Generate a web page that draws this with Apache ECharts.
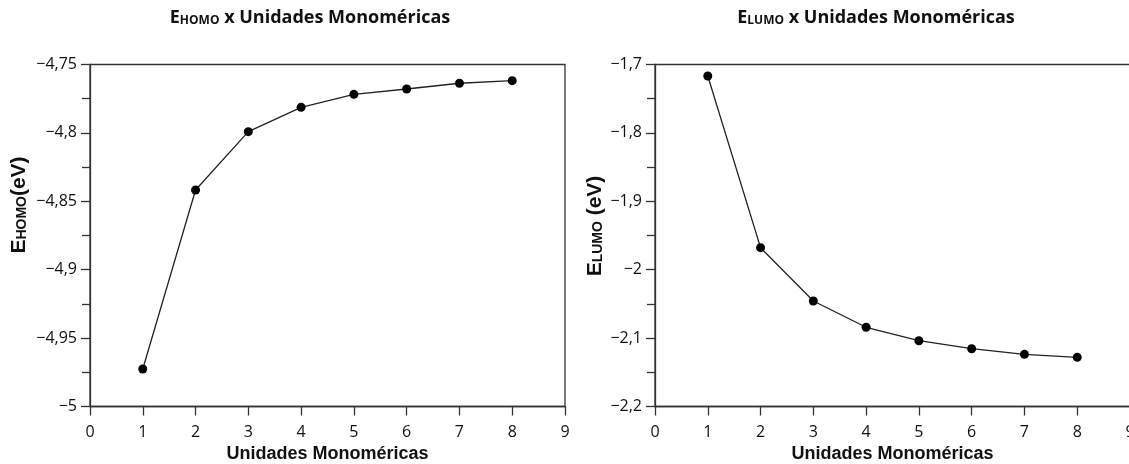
<!DOCTYPE html>
<html>
<head>
<meta charset="utf-8">
<script src="https://cdn.jsdelivr.net/npm/echarts@6/dist/echarts.min.js"></script>
<style>html,body{margin:0;padding:0;background:#fff}#c{width:1129px;height:464px}</style>
</head>
<body>
<div id="c"></div>
<script>
const units = [1, 2, 3, 4, 5, 6, 7, 8];
const homo = [-4.9726, -4.8417, -4.7991, -4.7813, -4.7718, -4.7679, -4.7637, -4.7618];
const lumo = [-1.7168, -1.9678, -2.0458, -2.0842, -2.1038, -2.1155, -2.1237, -2.1281];
const xTitle = 'Unidades Monoméricas';
const titleLeft = ['HOMO', ' x Unidades Monoméricas'];
const titleRight = ['LUMO', ' x Unidades Monoméricas'];
const yNameLeft = ['HOMO', '(eV)'];
const yNameRight = ['LUMO', ' (eV)'];

const chart = echarts.init(document.getElementById('c'));
const axisColor = '#333';
const fmt = v => {
  const s = String(Math.round(v * 1000) / 1000);
  return s.replace('-', '\u2212').replace('.', ',');
};
function xAxis(gi) {
  return {
    type: 'value', gridIndex: gi, min: 0, max: 9, interval: 1,
    name: xTitle, nameLocation: 'middle', nameGap: 39,
    nameTextStyle: {fontFamily: 'Liberation Sans', fontWeight: 'bold', fontSize: 18, color: '#111'},
    axisLine: {show: true, onZero: false, lineStyle: {color: axisColor, width: 1.3}},
    axisTick: {show: true, inside: false, length: 9, lineStyle: {color: axisColor, width: 1.3}},
    axisLabel: {margin: 18, fontFamily: 'Open Sans', fontSize: 16, color: '#111'},
    splitLine: {show: false}
  };
}
function yAxis(gi, min, max, interval) {
  return {
    type: 'value', gridIndex: gi, min: min, max: max, interval: interval,
    axisLine: {show: true, onZero: false, lineStyle: {color: axisColor, width: 1.3}},
    axisTick: {show: true, inside: false, length: 9, lineStyle: {color: axisColor, width: 1.3}},
    minorTick: {show: true, splitNumber: 2, length: 8, lineStyle: {color: axisColor, width: 1.3}},
    axisLabel: {margin: 13, fontFamily: 'Open Sans', fontSize: 16, color: '#111', formatter: fmt},
    splitLine: {show: false}
  };
}
const titleRich = {
  E: {fontFamily: 'Open Sans', fontWeight: 'bold', fontSize: 18, fill: '#111'},
  s: {fontFamily: 'Open Sans', fontWeight: 'bold', fontSize: 12, fill: '#111', padding: [6, 0, 0, 0]}
};
const nameRich = {
  E: {fontFamily: 'Liberation Sans', fontWeight: 'bold', fontSize: 21, fill: '#111'},
  s: {fontFamily: 'Liberation Sans', fontWeight: 'bold', fontSize: 14, fill: '#111', padding: [7, 0, 0, 0]}
};
function richTitle(parts) { return '{E|E}{s|' + parts[0] + '}{E|' + parts[1] + '}'; }

chart.setOption({
  animation: false,
  grid: [
    {left: 90, top: 64.5, width: 475, height: 342, show: true, borderColor: axisColor, borderWidth: 1.3, outerBoundsMode: 'none', containLabel: false},
    {left: 655, top: 64.5, width: 475, height: 342, show: true, borderColor: axisColor, borderWidth: 1.3, outerBoundsMode: 'none', containLabel: false}
  ],
  xAxis: [xAxis(0), xAxis(1)],
  yAxis: [yAxis(0, -5, -4.75, 0.05), yAxis(1, -2.2, -1.7, 0.1)],
  series: [
    {type: 'line', xAxisIndex: 0, yAxisIndex: 0, data: units.map((u, i) => [u, homo[i]]),
     symbol: 'circle', symbolSize: 9, itemStyle: {color: '#000'}, lineStyle: {color: '#222', width: 1.3}},
    {type: 'line', xAxisIndex: 1, yAxisIndex: 1, data: units.map((u, i) => [u, lumo[i]]),
     symbol: 'circle', symbolSize: 9, itemStyle: {color: '#000'}, lineStyle: {color: '#222', width: 1.3}}
  ],
  graphic: [
    {type: 'text', x: 310, y: 18, style: {text: richTitle(titleLeft), rich: titleRich, align: 'center', verticalAlign: 'middle'}},
    {type: 'text', x: 876, y: 18, style: {text: richTitle(titleRight), rich: titleRich, align: 'center', verticalAlign: 'middle'}},
    {type: 'text', x: 19, y: 205, rotation: Math.PI / 2, style: {text: richTitle(yNameLeft), rich: nameRich, align: 'center', verticalAlign: 'middle'}},
    {type: 'text', x: 595, y: 226, rotation: Math.PI / 2, style: {text: richTitle(yNameRight), rich: nameRich, align: 'center', verticalAlign: 'middle'}}
  ]
});
</script>
</body>
</html>
